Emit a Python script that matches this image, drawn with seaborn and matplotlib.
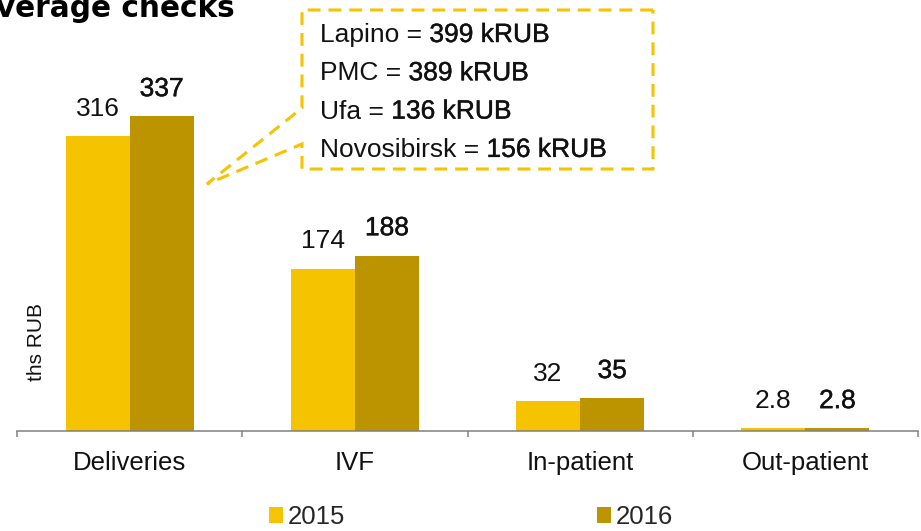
import matplotlib
matplotlib.use("Agg")
import matplotlib.pyplot as plt
import matplotlib.patheffects as pe
from matplotlib.patches import Polygon
import seaborn as sns
import pandas as pd

# ---- data ----
categories = ["Deliveries", "IVF", "In-patient", "Out-patient"]
years = ["2015", "2016"]
values_2015 = [316, 174, 32, 2.8]
values_2016 = [337, 188, 35, 2.8]
callout_names = ["Lapino", "PMC", "Ufa", "Novosibirsk"]
callout_values = ["399 kRUB", "389 kRUB", "136 kRUB", "156 kRUB"]
title = "Average checks"
ylabel = "ths RUB"

colors = {"2015": "#F6C300", "2016": "#BC9400"}
grey = "#808080"

df = pd.DataFrame({
    "category": categories * 2,
    "year": [years[0]] * len(categories) + [years[1]] * len(categories),
    "value": values_2015 + values_2016,
})

sns.set_theme(style="white")
plt.rcParams["font.family"] = ["Liberation Sans", "DejaVu Sans"]

W, H = 921, 531
fig = plt.figure(figsize=(W / 100, H / 100), dpi=100)
ax = fig.add_axes([17 / W, 100 / H, 901 / W, 420 / H])

sns.barplot(data=df, x="category", y="value", hue="year", hue_order=years,
            order=categories, palette=colors, width=0.568, gap=0,
            linewidth=0, saturation=1, ax=ax, legend=True)

ax.set_xlim(-0.5, len(categories) - 0.5)
ax.set_ylim(0, 450)
ax.set_xlabel("")
ax.set_ylabel("")
ax.set_yticks([])

for s in ["top", "right", "left"]:
    ax.spines[s].set_visible(False)
ax.spines["bottom"].set_color(grey)
ax.spines["bottom"].set_linewidth(1.1)

ax.set_xticks(range(len(categories)))
ax.set_xticklabels(categories, fontsize=18.5, color="#111111")
ax.tick_params(axis="x", which="major", length=0, pad=14.5)
ax.set_xticks([i - 0.5 for i in range(len(categories) + 1)], minor=True)
ax.tick_params(axis="x", which="minor", length=4.5, width=1.1, color=grey,
               direction="out", bottom=True)

medium = [pe.withStroke(linewidth=0.3, foreground="#111111")]

# value labels
fmt = lambda v: f"{v:g}"
for i, cont in enumerate(ax.containers):
    labs = ax.bar_label(cont, labels=[fmt(b.get_height()) for b in cont],
                        padding=11, fontsize=19, color="#111111")
    if i == 1:
        for t in labs:
            t.set_path_effects(medium)

# legend
handles, labels = ax.get_legend_handles_labels()
ax.get_legend().remove()
fig.legend(handles, labels, loc="center", bbox_to_anchor=(471 / W, 14 / H),
           ncol=2, frameon=False, fontsize=18.5, handlelength=0.55,
           handleheight=0.55, handletextpad=0.2, columnspacing=9.8,
           borderaxespad=0, borderpad=0)

# y label
fig.text(36 / W, 1 - 342 / H, ylabel, rotation=90, fontsize=15,
         ha="center", va="center", color="#111111")

# title (cropped at the left edge like in the original)
fig.text(-26 / W, 1 - 17 / H, title, fontsize=21.3, weight="bold",
         family="DejaVu Sans", va="baseline", ha="left", color="black")

# callout shape
px = lambda x, y: (x / W, 1 - y / H)
pts = [px(653, 10), px(302, 10), px(302, 108), px(207, 184), px(302, 144),
       px(302, 169), px(653, 169)]
poly = Polygon(pts, closed=True, fill=False, edgecolor="#F6C300",
               linewidth=2.2, linestyle=(0, (4.2, 2.6)),
               transform=fig.transFigure, joinstyle="miter")
fig.add_artist(poly)

for k, (n, v) in enumerate(zip(callout_names, callout_values)):
    y = 42 + k * 38.3
    t1 = fig.text(320 / W, 1 - y / H, f"{n} = ", fontsize=19,
                  va="baseline", ha="left", color="#111111")
    t2 = ax.annotate(v, xy=(1, 0), xycoords=t1, va="bottom", ha="left",
                     fontsize=19, color="#111111", annotation_clip=False)
    t2.set_path_effects(medium)

fig.savefig("out.png", dpi=100)
